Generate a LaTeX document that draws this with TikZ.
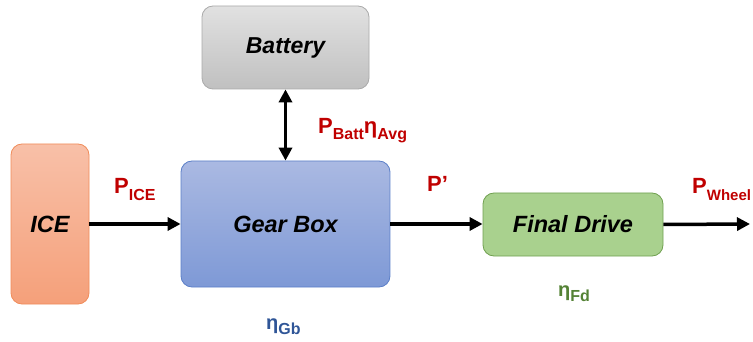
\documentclass[tikz,border=0pt]{standalone}
\usepackage{fontspec}
\setmainfont{Liberation Sans}
\usetikzlibrary{arrows.meta}
\definecolor{lred}{HTML}{C00000}
\definecolor{lgreen}{HTML}{548235}
\definecolor{lblue}{HTML}{2F5597}
\newcommand{\fsz}[1]{\fontsize{#1}{#1}\selectfont}
\newcommand{\subt}[1]{{\fsz{16}\raisebox{-6pt}{#1}}}
\newcommand{\etasub}[1]{{\fsz{16}\raisebox{-5pt}{#1}}}
\tikzset{
  blk/.style={rounded corners=11pt, line width=0.8pt, inner sep=0pt,
    font=\bfseries\itshape\fsz{23.5}},
  flow/.style={line width=3.5pt, -{Triangle[length=13pt,width=13pt]}},
  lbl/.style={font=\bfseries\fsz{22}, text=lred, inner sep=0pt, anchor=base west},
}
\begin{document}
\begin{tikzpicture}[x=1pt,y=-1pt]
\useasboundingbox (0,0) rectangle (753,342);
\node[blk, draw={rgb,255:red,240;green,140;blue,90}, top color={rgb,255:red,248;green,192;blue,168}, bottom color={rgb,255:red,245;green,160;blue,122},
  minimum width=78pt, minimum height=160pt] (ice) at (50,224) {ICE};
\node[blk, draw={rgb,255:red,170;green,170;blue,170}, top color={rgb,255:red,225;green,225;blue,225}, bottom color={rgb,255:red,192;green,192;blue,192},
  minimum width=167pt, minimum height=83pt, font=\bfseries\itshape\fsz{23}] (bat) at (285.5,47.5) {Battery};
\node[blk, draw={rgb,255:red,91;green,127;blue,200}, top color={rgb,255:red,170;green,185;blue,226}, bottom color={rgb,255:red,126;green,153;blue,214},
  minimum width=209pt, minimum height=126pt] (gb) at (285.5,224) {Gear Box};
\node[blk, draw={rgb,255:red,112;green,160;blue,80}, fill={rgb,255:red,169;green,209;blue,142},
  minimum width=180pt, minimum height=63pt] (fd) at (573,224.5) {Final Drive};
\coordinate (out) at (750,224);
\draw[flow] (ice.east) -- (ice.east -| gb.west);
\draw[flow] (gb.east) -- (gb.east -| fd.west);
\draw[flow] (fd.east) -- (out);
\draw[line width=3.5pt, {Triangle[length=13pt,width=13pt]}-{Triangle[length=13pt,width=13pt]}] (bat.south) -- (bat.south |- gb.north);
\node[lbl] (pice) at (114,194) {P\subt{ICE}};
\node[lbl] (pbatt) at (318,134) {P\subt{Batt}{\fsz{22}η}\subt{Avg}};
\node[lbl] (pp) at (427,192) {P’};
\node[lbl] (pw) at (692,194) {P{\fsz{15}\raisebox{-6pt}{Wheel}}};
\node[lbl, text=lgreen, font=\bfseries\fsz{20}] (efd) at (558,296) {η\etasub{Fd}};
\node[lbl, text=lblue, font=\bfseries\fsz{20}] (egb) at (266,329) {η\etasub{Gb}};
\end{tikzpicture}
\end{document}
